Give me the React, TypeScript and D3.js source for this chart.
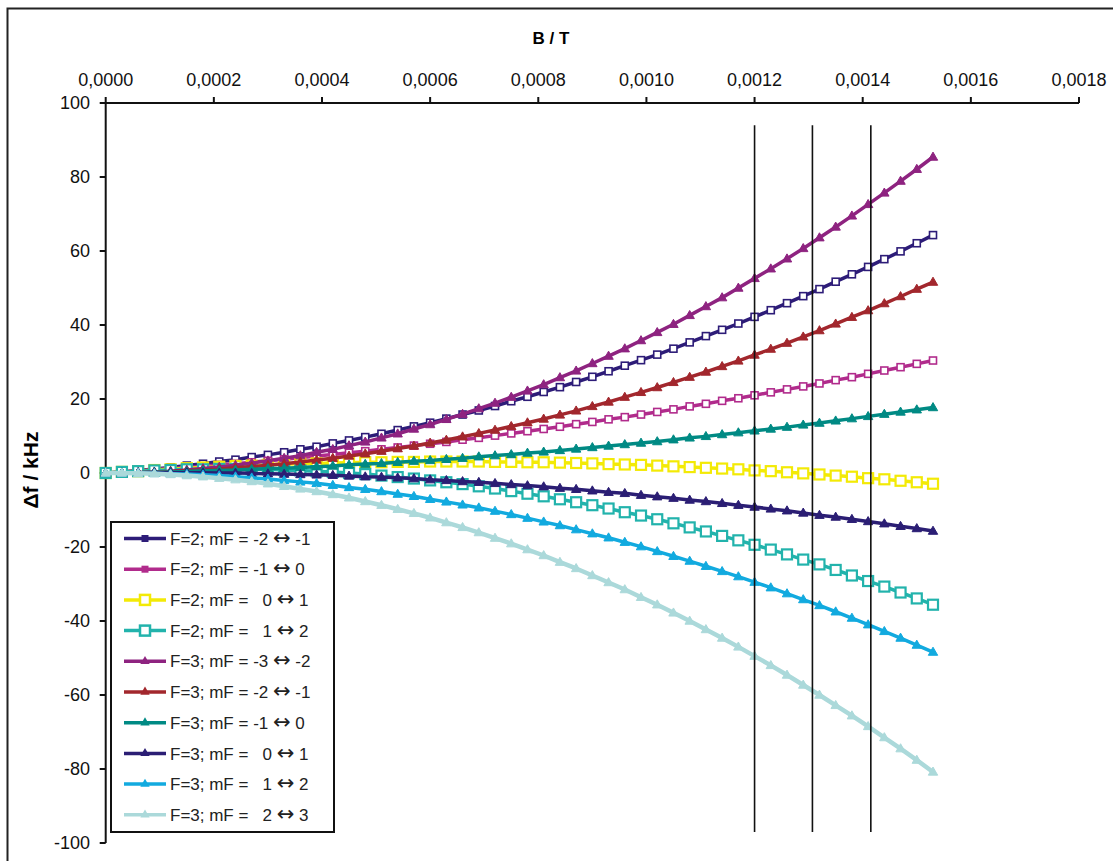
import React from "react";
import * as d3 from "d3";

// Magnetic field B (T)
const B = [
  0, 0.00003, 0.00006, 0.00009, 0.00012, 0.00015, 0.00018, 0.00021, 0.00024, 0.00027,
  0.0003, 0.00033, 0.00036, 0.00039, 0.00042, 0.00045, 0.00048, 0.00051, 0.00054, 0.00057,
  0.0006, 0.00063, 0.00066, 0.00069, 0.00072, 0.00075, 0.00078, 0.00081, 0.00084, 0.00087,
  0.0009, 0.00093, 0.00096, 0.00099, 0.00102, 0.00105, 0.00108, 0.00111, 0.00114, 0.00117,
  0.0012, 0.00123, 0.00126, 0.00129, 0.00132, 0.00135, 0.00138, 0.00141, 0.00144, 0.00147,
  0.0015, 0.00153,
];

// Δf (kHz) per transition
const f2_m2m1 = [0,0.3,0.7,1.1,1.5,2.0,2.5,3.1,3.6,4.3,4.9,5.6,6.4,7.1,8.0,8.8,9.7,10.6,11.6,12.6,13.6,14.7,15.8,16.9,18.1,19.4,20.6,21.9,23.2,24.6,26.0,27.5,29.0,30.5,32.0,33.6,35.3,37.0,38.7,40.4,42.2,44.0,45.9,47.8,49.7,51.7,53.7,55.7,57.8,59.9,62.1,64.3];
const f2_m1_0 = [0,0.3,0.6,0.9,1.2,1.5,1.8,2.2,2.5,2.9,3.3,3.7,4.1,4.6,5.0,5.5,5.9,6.4,6.9,7.4,7.9,8.4,9.0,9.5,10.1,10.7,11.3,11.9,12.5,13.2,13.8,14.5,15.1,15.8,16.5,17.2,18.0,18.7,19.5,20.2,21.0,21.8,22.6,23.4,24.2,25.1,25.9,26.8,27.7,28.6,29.5,30.4];
const f2_0_1 = [0,0.3,0.5,0.8,1.0,1.3,1.5,1.7,1.9,2.0,2.2,2.4,2.5,2.6,2.7,2.8,2.9,2.9,3.0,3.0,3.1,3.1,3.1,3.1,3.0,3.0,2.9,2.9,2.8,2.7,2.6,2.4,2.3,2.2,2.0,1.8,1.6,1.4,1.2,1.0,0.7,0.5,0.2,-0.1,-0.4,-0.7,-1.0,-1.4,-1.7,-2.1,-2.5,-2.9];
const f2_1_2 = [0,0.3,0.5,0.7,0.8,1.0,1.0,1.1,1.1,1.0,1.0,0.8,0.7,0.5,0.3,0.0,-0.3,-0.7,-1.1,-1.5,-2.0,-2.5,-3.0,-3.6,-4.2,-4.9,-5.6,-6.3,-7.1,-7.9,-8.7,-9.6,-10.6,-11.5,-12.5,-13.6,-14.7,-15.8,-17.0,-18.2,-19.4,-20.7,-22.0,-23.4,-24.7,-26.2,-27.7,-29.2,-30.7,-32.3,-33.9,-35.6];
const f3_m3m2 = [0,0.0,0.1,0.3,0.5,0.8,1.2,1.6,2.1,2.7,3.3,4.0,4.7,5.6,6.4,7.4,8.4,9.5,10.6,11.9,13.1,14.5,15.9,17.4,18.9,20.5,22.2,23.9,25.8,27.6,29.6,31.6,33.6,35.8,38.0,40.2,42.6,45.0,47.4,50.0,52.6,55.2,57.9,60.7,63.6,66.5,69.5,72.6,75.7,78.9,82.1,85.4];
const f3_m2m1 = [0,0.0,0.1,0.2,0.4,0.6,0.8,1.0,1.4,1.7,2.1,2.5,3.0,3.5,4.0,4.6,5.2,5.9,6.6,7.3,8.1,8.9,9.8,10.7,11.6,12.6,13.6,14.6,15.7,16.8,18.0,19.2,20.5,21.8,23.1,24.5,25.9,27.3,28.8,30.3,31.9,33.5,35.1,36.8,38.5,40.3,42.1,43.9,45.8,47.7,49.7,51.6];
const f3_m1_0 = [0,0.1,0.1,0.2,0.3,0.4,0.6,0.7,0.8,1.0,1.2,1.3,1.5,1.7,1.9,2.2,2.4,2.6,2.9,3.2,3.4,3.7,4.0,4.4,4.7,5.0,5.4,5.7,6.1,6.5,6.9,7.3,7.7,8.1,8.5,9.0,9.5,9.9,10.4,10.9,11.4,11.9,12.4,13.0,13.5,14.1,14.7,15.3,15.9,16.5,17.1,17.7];
const f3_0_1 = [0,0.0,0.1,0.1,0.1,0.1,0.1,0.0,0.0,-0.1,-0.2,-0.3,-0.4,-0.5,-0.6,-0.8,-1.0,-1.1,-1.3,-1.5,-1.8,-2.0,-2.3,-2.5,-2.8,-3.1,-3.4,-3.7,-4.1,-4.4,-4.8,-5.2,-5.5,-6.0,-6.4,-6.8,-7.3,-7.7,-8.2,-8.7,-9.2,-9.7,-10.2,-10.8,-11.4,-11.9,-12.5,-13.1,-13.7,-14.4,-15.0,-15.7];
const f3_1_2 = [0,0.0,0.0,-0.1,-0.2,-0.3,-0.5,-0.7,-1.0,-1.3,-1.6,-2.0,-2.4,-2.8,-3.3,-3.9,-4.4,-5.0,-5.7,-6.3,-7.1,-7.8,-8.6,-9.4,-10.3,-11.2,-12.2,-13.2,-14.2,-15.3,-16.4,-17.5,-18.7,-19.9,-21.2,-22.5,-23.8,-25.2,-26.6,-28.0,-29.5,-31.0,-32.6,-34.2,-35.8,-37.5,-39.2,-41.0,-42.8,-44.6,-46.5,-48.4];
const f3_2_3 = [0,0.0,-0.1,-0.2,-0.4,-0.7,-1.0,-1.4,-1.8,-2.3,-2.9,-3.6,-4.3,-5.0,-5.8,-6.7,-7.7,-8.7,-9.8,-10.9,-12.1,-13.4,-14.7,-16.1,-17.6,-19.1,-20.7,-22.3,-24.1,-25.8,-27.7,-29.6,-31.5,-33.6,-35.6,-37.8,-40.0,-42.3,-44.6,-47.0,-49.5,-52.0,-54.6,-57.3,-60.0,-62.8,-65.6,-68.5,-71.5,-74.5,-77.6,-80.8];

const seriesValues = [f2_m2m1, f2_m1_0, f2_0_1, f2_1_2, f3_m3m2, f3_m2m1, f3_m1_0, f3_0_1, f3_1_2, f3_2_3];
const seriesLabels = [
  "F=2; mF = -2 \u2194 -1",
  "F=2; mF = -1 \u2194 0",
  "F=2; mF =   0 \u2194 1",
  "F=2; mF =   1 \u2194 2",
  "F=3; mF = -3 \u2194 -2",
  "F=3; mF = -2 \u2194 -1",
  "F=3; mF = -1 \u2194 0",
  "F=3; mF =   0 \u2194 1",
  "F=3; mF =   1 \u2194 2",
  "F=3; mF =   2 \u2194 3",
];
const seriesColors = ["#2d1c78", "#b12b8c", "#f3ea06", "#22b3ac", "#8e2380", "#a2272d", "#008a84", "#2b1e74", "#12aadf", "#abd9da"];
const seriesMarkers = ["square", "square", "bigSquare", "bigSquare", "triangle", "triangle", "triangle", "triangle", "triangle", "triangle"];

const xTicks = [0, 0.0002, 0.0004, 0.0006, 0.0008, 0.001, 0.0012, 0.0014, 0.0016, 0.0018];
const yTicks = [100, 80, 60, 40, 20, 0, -20, -40, -60, -80, -100];
const refLinesB = [0.0012, 0.001307, 0.001415];
const refLineRange = [94, -97];

const FONT = "'Liberation Sans', Arial, Helvetica, sans-serif";

function Marker({ kind, x, y, color }: { kind: string; x: number; y: number; color: string }) {
  if (kind === "triangle") {
    const p = d3.symbol().type(d3.symbolTriangle).size(38)();
    return <path d={p as string} transform={`translate(${x},${y + 0.5})`} fill={color} stroke={color} strokeWidth={1} />;
  }
  const big = kind === "bigSquare";
  const s = big ? 10 : 7;
  return (
    <rect x={x - s / 2} y={y - s / 2} width={s} height={s} fill="white" stroke={color} strokeWidth={big ? 2.2 : 1.6} />
  );
}

export default function App() {
  const W = 1113, H = 861;
  const x = d3.scaleLinear().domain([0, 0.0018]).range([105.7, 1079]);
  const y = d3.scaleLinear().domain([-100, 100]).range([843, 103]);
  const line = d3.line<[number, number]>().x((d) => x(d[0])).y((d) => y(d[1]));
  const fmt = (v: number) => v.toFixed(4).replace(".", ",");

  const legX = 111, legY = 522, legW = 223, legH = 310;
  const rowY0 = 538.5, rowDy = 30.7;

  return (
    <svg width={W} height={H} style={{ position: "absolute", left: 0, top: 0, background: "white" }} fontFamily={FONT}>
      <rect x={0} y={0} width={W} height={H} fill="white" />
      <rect x={7.5} y={8.5} width={1300} height={1000} fill="none" stroke="#222" strokeWidth={2} />

      {/* axis titles */}
      <text x={551} y={44} textAnchor="middle" fontWeight="bold" fontSize={17}>B / T</text>
      <text transform="translate(38,470) rotate(-90)" textAnchor="middle" fontWeight="bold" fontSize={21}>{"\u0394f / kHz"}</text>

      {/* x axis (top) */}
      <line x1={x(0)} x2={x(0.0018)} y1={y(100)} y2={y(100)} stroke="#111" strokeWidth={2} />
      {xTicks.map((t) => (
        <g key={t}>
          <line x1={x(t)} x2={x(t)} y1={y(100) - 6} y2={y(100)} stroke="#111" strokeWidth={2} />
          <text x={x(t)} y={86} textAnchor="middle" fontSize={18} fill="#111">{fmt(t)}</text>
        </g>
      ))}

      {/* y axis */}
      <line x1={x(0)} x2={x(0)} y1={y(100)} y2={y(-100)} stroke="#111" strokeWidth={2} />
      {yTicks.map((t) => (
        <g key={t}>
          <line x1={x(0) - 6} x2={x(0)} y1={y(t)} y2={y(t)} stroke="#111" strokeWidth={2} />
          <text x={90} y={y(t)} dy="0.35em" textAnchor="end" fontSize={18} fill="#111">{t}</text>
        </g>
      ))}

      {/* series */}
      {seriesValues.map((vals, i) => {
        const pts = B.map((b, k) => [b, vals[k]] as [number, number]);
        return (
          <g key={i}>
            <path d={line(pts) as string} fill="none" stroke={seriesColors[i]} strokeWidth={i === 9 ? 4.5 : 3.5} strokeLinejoin="round" />
            {pts.map((p, k) => (
              <Marker key={k} kind={seriesMarkers[i]} x={x(p[0])} y={y(p[1])} color={seriesColors[i]} />
            ))}
          </g>
        );
      })}

      {/* reference lines */}
      {refLinesB.map((b) => (
        <line key={b} x1={x(b)} x2={x(b)} y1={y(refLineRange[0])} y2={y(refLineRange[1])} stroke="#111" strokeWidth={1.6} />
      ))}

      {/* legend */}
      <rect x={legX} y={legY} width={legW} height={legH} fill="white" stroke="#111" strokeWidth={2} />
      {seriesLabels.map((lab, i) => {
        const ry = rowY0 + i * rowDy;
        const kind = seriesMarkers[i];
        const [left, right] = lab.split("\u2194");
        return (
          <g key={i}>
            <line x1={124} x2={166} y1={ry} y2={ry} stroke={seriesColors[i]} strokeWidth={3.5} />
            {kind === "triangle" ? (
              <path d={d3.symbol().type(d3.symbolTriangle).size(38)() as string} transform={`translate(145,${ry})`} fill={seriesColors[i]} />
            ) : kind === "bigSquare" ? (
              <rect x={140} y={ry - 5} width={10} height={10} fill="white" stroke={seriesColors[i]} strokeWidth={2.5} />
            ) : (
              <rect x={141.5} y={ry - 3.5} width={7} height={7} fill={seriesColors[i]} />
            )}
            <text x={170} y={ry} dy="0.36em" fontSize={17} fill="#222" style={{ whiteSpace: "pre" }}>
              {left}
              <tspan fontFamily="'DejaVu Sans', sans-serif" fontSize={21}>{"\u2194"}</tspan>
              {right}
            </text>
          </g>
        );
      })}
    </svg>
  );
}
